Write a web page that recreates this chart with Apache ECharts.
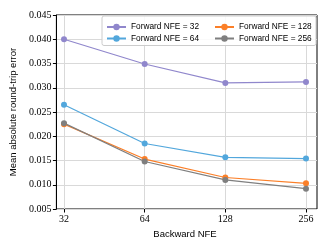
<!DOCTYPE html>
<html>
<head>
<meta charset="utf-8">
<script src="https://cdn.jsdelivr.net/npm/echarts@6/dist/echarts.min.js"></script>
<style>html,body{margin:0;padding:0;background:#fff}#c{width:329px;height:247px}</style>
</head>
<body>
<div id="c"></div>
<script>
var backwardNFE = ['32', '64', '128', '256'];
var seriesNames = ['Forward NFE = 32', 'Forward NFE = 64', 'Forward NFE = 128', 'Forward NFE = 256'];
var fwd32 = [0.0400, 0.0349, 0.0310, 0.0312];
var fwd64 = [0.0265, 0.0185, 0.01565, 0.0154];
var fwd128 = [0.0225, 0.0153, 0.0115, 0.0103];
var fwd256 = [0.0227, 0.0148, 0.0110, 0.0092];
var colors = ['#9087cc', '#52a7dc', '#fb7f28', '#7f7f7f'];
var yMin = 0.005, yMax = 0.045, yStep = 0.005;

var chart = echarts.init(document.getElementById('c'), null, {renderer: 'canvas'});
var serifFont = '"Liberation Serif", "DejaVu Serif", serif';
var sansFont = '"Liberation Sans", "DejaVu Sans", sans-serif';
var allData = [fwd32, fwd64, fwd128, fwd256];

var series = allData.map(function (d, i) {
  return {
    name: seriesNames[i], type: 'line', xAxisIndex: 1, yAxisIndex: 1,
    data: d, symbol: 'circle', symbolSize: 6, showSymbol: true,
    color: colors[i], lineStyle: {width: 1.2, color: colors[i]},
    itemStyle: {color: colors[i]}, emphasis: {disabled: true}, animation: false
  };
});

var legendCommon = {
  orient: 'vertical', top: 16, itemWidth: 19, itemHeight: 8, itemGap: 3.5,
  textStyle: {fontFamily: sansFont, fontSize: 8.3, color: '#000', padding: [0,0,0,0]},
  selectedMode: false
};

chart.setOption({
  animation: false,
  grid: [
    {left: 52, right: 12, top: 15, bottom: 38, show: true, borderColor: '#000', borderWidth: 1, backgroundColor: 'transparent'},
    {left: 64, right: 23, top: 15, bottom: 38}
  ],
  xAxis: [
    {gridIndex: 0, type: 'value', show: false, min: 0, max: 1},
    {gridIndex: 1, type: 'category', data: backwardNFE, boundaryGap: false,
     axisLine: {show: false},
     axisTick: {show: true, inside: false, length: 3.5, alignWithLabel: true, lineStyle: {color: '#000', width: 1}},
     axisLabel: {fontFamily: serifFont, fontSize: 10, color: '#000', margin: 5},
     splitLine: {show: true, lineStyle: {color: '#d9d9d9', width: 1}},
     name: 'Backward NFE', nameLocation: 'middle', nameGap: 15,
     nameTextStyle: {fontFamily: sansFont, fontSize: 9.5, color: '#000'}}
  ],
  yAxis: [
    {gridIndex: 0, type: 'value', min: yMin, max: yMax, interval: yStep,
     axisLine: {show: true, lineStyle: {color: '#000', width: 1}},
     axisTick: {show: true, inside: false, length: 3.5, lineStyle: {color: '#000'}},
     axisLabel: {fontFamily: serifFont, fontSize: 10, color: '#000', margin: 5,
                 formatter: function (v) { return v.toFixed(3); }},
     splitLine: {show: true, lineStyle: {color: '#d9d9d9', width: 1}},
     name: 'Mean absolute round-trip error', nameLocation: 'middle', nameGap: 33,
     nameTextStyle: {fontFamily: sansFont, fontSize: 9.5, color: '#000'}},
    {gridIndex: 1, type: 'value', min: yMin, max: yMax, interval: yStep, show: false}
  ],
  legend: [
    Object.assign({}, legendCommon, {
      data: [seriesNames[0], seriesNames[1]], left: 102,
      padding: [7, 117, 3, 4], backgroundColor: 'rgba(255,255,255,0.85)',
      borderColor: '#cccccc', borderWidth: 1, borderRadius: 2, z: 4
    }),
    Object.assign({}, legendCommon, {
      data: [seriesNames[2], seriesNames[3]], left: 210,
      padding: [7, 0, 3, 4], z: 5
    })
  ],
  series: series
});
</script>
</body>
</html>
